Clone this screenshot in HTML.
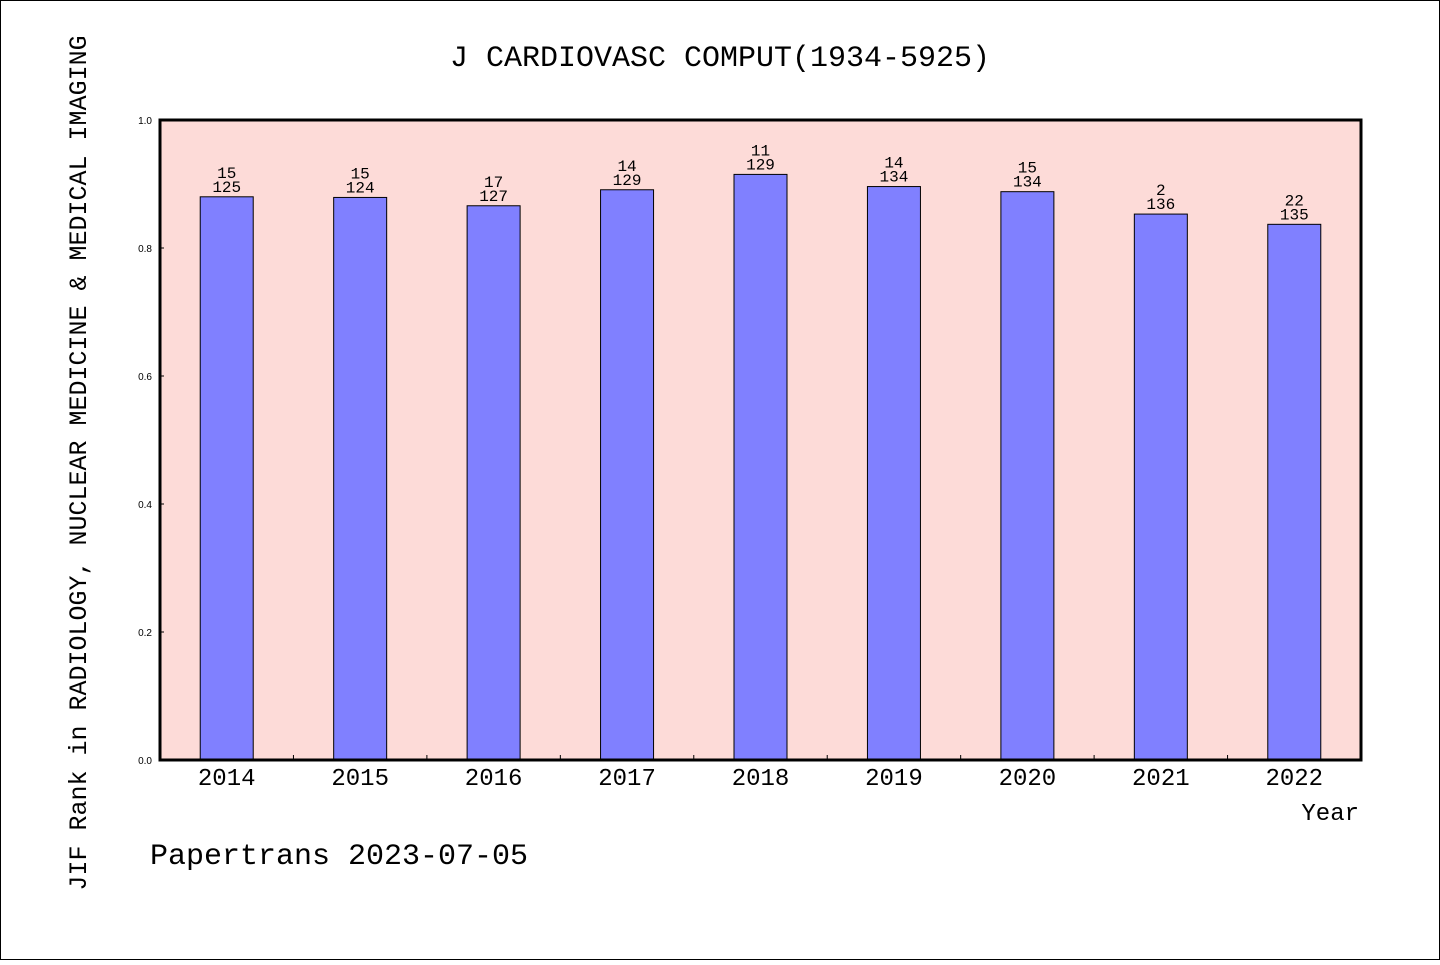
<!DOCTYPE html>
<html><head><meta charset="utf-8"><style>
html,body{margin:0;padding:0;background:#fff}
svg text{font-family:"Liberation Mono","Noto Sans CJK SC",monospace;fill:#000}
</style></head><body>
<svg width="1440" height="960" xmlns="http://www.w3.org/2000/svg">
<rect x="0.5" y="0.5" width="1439" height="959" fill="#fff" stroke="#000"/>
<text x="720" y="66" font-size="30" text-anchor="middle">J CARDIOVASC COMPUT(1934-5925)</text>
<rect x="160" y="120" width="1201" height="640" fill="#fddbd8"/>
<g id="bars"></g>
<g id="axes"></g>
<rect x="160" y="120" width="1201" height="640" fill="none" stroke="#000" stroke-width="3"/>
<text x="1359" y="820" font-size="24" text-anchor="end">Year</text>
<text transform="translate(86,463) rotate(-90)" font-size="25" text-anchor="middle">JIF Rank in RADIOLOGY, NUCLEAR MEDICINE &amp; MEDICAL IMAGING</text>
<text x="150" y="864" font-size="30">Papertrans 2023-07-05</text>
</svg>
<script>
const years=["2014","2015","2016","2017","2018","2019","2020","2021","2022"];
const values=[0.880,0.879,0.866,0.891,0.915,0.896,0.888,0.853,0.837];
const ranks=["15","15","17","14","11","14","15","2","22"];
const totals=["125","124","127","129","129","134","134","136","135"];
const yTicks=[0,0.2,0.4,0.6,0.8,1.0];
const NS="http://www.w3.org/2000/svg";
const X0=160,W=1201,Y0=760,H=640,bw=53;
const band=W/years.length;
const xC=i=>X0+band*(i+0.5);
const yS=v=>Y0-v*H;
const bars=document.getElementById('bars'),axes=document.getElementById('axes');
function mk(tag,attrs,parent,txt){const e=document.createElementNS(NS,tag);for(const k in attrs)e.setAttribute(k,attrs[k]);if(txt!==undefined)e.textContent=txt;parent.appendChild(e);return e;}
years.forEach((y,i)=>{
 const r=mk('rect',{x:xC(i)-bw/2,y:yS(values[i]),width:bw,height:Y0-yS(values[i]),fill:'#8080ff',stroke:'#000','stroke-width':1},bars);
 
 
 const t1=mk('text',{x:xC(i),y:yS(values[i])-19,'font-size':16,'text-anchor':'middle'},bars,ranks[i]);
 
 
 const t2=mk('text',{x:xC(i),y:yS(values[i])-5,'font-size':16,'text-anchor':'middle'},bars,totals[i]);
 
 
 const xl=mk('text',{x:xC(i),y:785,'font-size':24,'text-anchor':'middle'},axes,y);
 
 
 if(i>0){const tk=mk('line',{x1:X0+band*i,x2:X0+band*i,y1:Y0,y2:Y0-5,stroke:'#000'},axes);
 
 }
});
yTicks.forEach(v=>{
 const t=mk('text',{x:152,y:yS(v)+4,'font-size':10,'text-anchor':'end','style':'font-family:"Liberation Sans",sans-serif'},axes,v.toFixed(1));
 
 
 const l=mk('line',{x1:160,x2:164,y1:yS(v),y2:yS(v),stroke:'#000'},axes);
 
 
});
</script>
</body></html>
